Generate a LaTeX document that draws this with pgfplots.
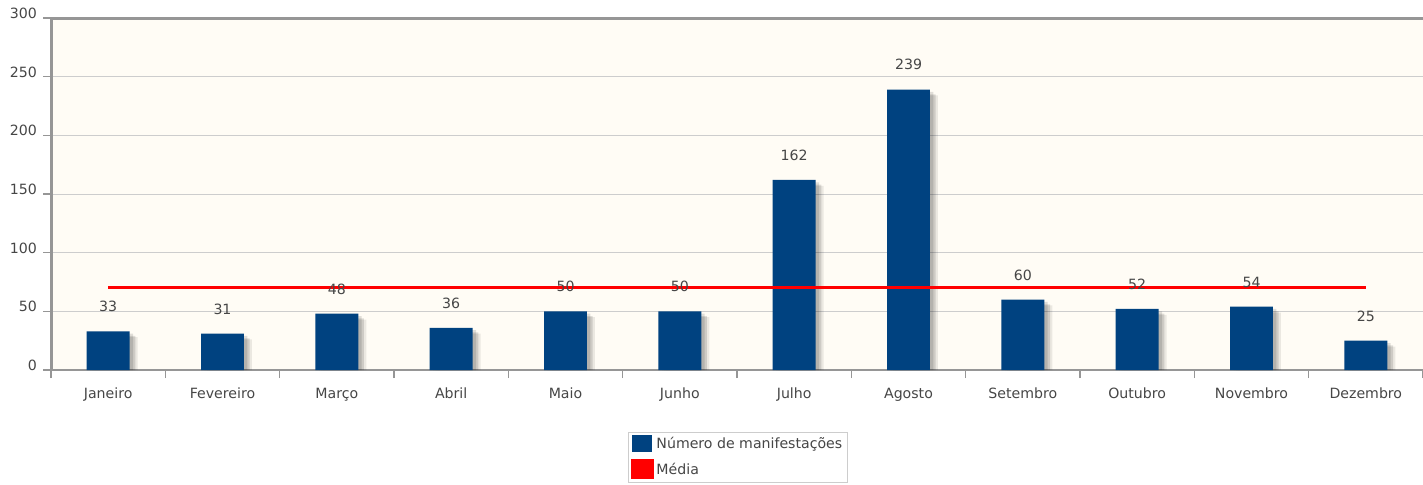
\documentclass[border=0pt]{standalone}
\usepackage{fontspec}
\setmainfont{DejaVu Sans}
\usepackage{pgfplots}
\pgfplotsset{compat=1.18}
\usepackage{pgfplotstable}

\definecolor{barblue}{RGB}{0,66,128}
\definecolor{bgcream}{RGB}{255,252,245}
\definecolor{axgray}{RGB}{150,150,150}
\definecolor{gridgray}{RGB}{205,205,205}
\definecolor{txtgray}{RGB}{70,70,70}

\pgfplotstableread{
x v
0 33
1 31
2 48
3 36
4 50
5 50
6 162
7 239
8 60
9 52
10 54
11 25
}\monthly

\begin{document}
\begin{tikzpicture}[font=\fontsize{10.6}{12.5}\selectfont]
\useasboundingbox (-38.25pt,-86.25pt) rectangle (1029pt,277.5pt);
\begin{axis}[
  scale only axis,
  width=1029pt, height=264pt,
  anchor=south west, at={(0,0)},
  xmin=-0.5, xmax=11.5,
  ymin=0, ymax=300,
  ytick={0,50,...,300},
  xtick={0,...,11},
  xticklabels={Janeiro,Fevereiro,Março,Abril,Maio,Junho,Julho,Agosto,Setembro,Outubro,Novembro,Dezembro},
  typeset ticklabels with strut,
  minor xtick={-0.5,0.5,...,11.5},
  major x tick style={draw=none},
  minor x tick style={axgray, line width=0.8pt},
  y tick style={axgray, line width=0.8pt},
  tick align=outside,
  tick pos=left,
  major tick length=6pt,
  minor tick length=6pt,
  ymajorgrids,
  y grid style={gridgray, line width=0.6pt},
  axis line style={axgray, line width=1.6pt},
  axis x line*=bottom,
  axis y line*=left,
  axis background/.style={fill=bgcream},
  tick label style={txtgray},
  yticklabel style={xshift=-1pt, yshift=2pt},
  xticklabel style={yshift=-3pt},
  /pgf/number format/assume math mode=true,
  legend style={
    at={(0.4205,-0.176)}, anchor=north west,
    draw=gridgray, fill=white, font=\fontsize{10.6}{12.5}\selectfont\color{txtgray},
    inner sep=2pt, row sep=4pt,
    legend cell align=left,
  },
  legend image code/.code={\fill[#1] (0pt,-6pt) rectangle (15pt,7pt);},
]
% top and left border
\draw[axgray, line width=2.4pt] (rel axis cs:0,0) -- (rel axis cs:0,1) -- (rel axis cs:1,1);
% shadows
\addplot[ybar, bar width=0.375, bar shift=0.07, draw=none, fill=black, fill opacity=0.08, forget plot]
  table[x=x, y expr=\thisrow{v}-5] {\monthly};
\addplot[ybar, bar width=0.375, bar shift=0.05, draw=none, fill=black, fill opacity=0.12, forget plot]
  table[x=x, y expr=\thisrow{v}-4] {\monthly};
\addplot[ybar, bar width=0.375, bar shift=0.03, draw=none, fill=black, fill opacity=0.12, forget plot]
  table[x=x, y expr=\thisrow{v}-2] {\monthly};
\addplot[ybar, bar width=0.375, bar shift=0, draw=none, fill=barblue,
  nodes near coords, every node near coord/.append style={txtgray, anchor=south, yshift=11pt, font=\fontsize{10.6}{12.5}\selectfont},
  nodes near coords style={/pgf/number format/assume math mode=true}]
  table[x=x, y=v] {\monthly};
\addlegendentry{Número de manifestações}
\addplot[red, line width=2.2pt, legend image code/.code={\fill[red] (0pt,-6pt) rectangle (15pt,7pt);}]
  coordinates {(0,70) (11,70)};
\addlegendentry{Média}
\end{axis}
\end{tikzpicture}
\end{document}
